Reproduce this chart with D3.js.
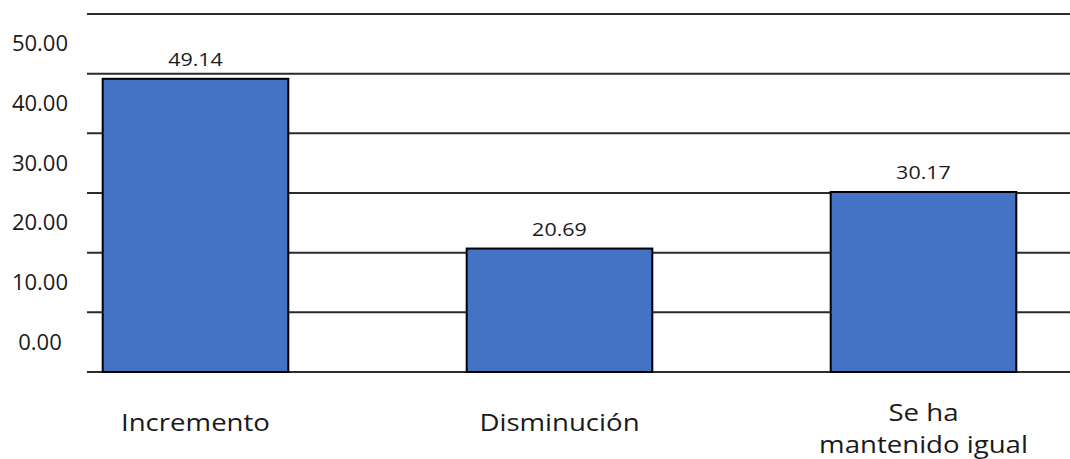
<!DOCTYPE html>
<html>
<head>
<meta charset="utf-8">
<script src="https://cdn.jsdelivr.net/npm/d3@7"></script>
<style>
  html, body { margin: 0; padding: 0; background: #fff; }
  svg text { font-family: "Open Sans", "DejaVu Sans", sans-serif; fill: #1a1a1a; }
</style>
</head>
<body>
<svg id="chart" width="1070" height="459"></svg>
<script>
// ── Data ─────────────────────────────────────────────────────────────────────
const CATEGORIES = ["Incremento", "Disminución", "Se ha|mantenido igual"];
const VALUES     = [49.14, 20.69, 30.17];
const TICKS      = [0, 10, 20, 30, 40, 50, 60];
const TICK_LBLS  = ["0.00", "10.00", "20.00", "30.00", "40.00", "50.00", ""];

const VW = 1070, VH = 459;
const M  = { top: 14, right: 0, bottom: 87, left: 87 };

const svg = d3.select("#chart").attr("viewBox", `0 0 ${VW} ${VH}`);

const y = d3.scaleLinear().domain([0, 60]).range([VH - M.bottom, M.top]);
const x = d3.scaleBand().domain(CATEGORIES).range([13.5, 1105.5]).paddingInner(0.49).paddingOuter(0.245);

// text stretched horizontally like the source image
function stretch(sel, sx) {
  sel.attr("transform", function() {
    const tx = +this.getAttribute("x"), ty = +this.getAttribute("y");
    return `translate(${tx},${ty}) scale(${sx},1) translate(${-tx},${-ty})`;
  });
}

// Gridlines
svg.append("g").selectAll("line")
  .data(TICKS)
  .join("line")
  .attr("x1", M.left).attr("x2", VW)
  .attr("y1", d => y(d)).attr("y2", d => y(d))
  .attr("stroke", "#2b2b2b").attr("stroke-width", 2);

// Tick labels (sit half a step above their gridline, like the source)
const half = (y(0) - y(10)) / 2;
svg.append("g").selectAll("text")
  .data(TICKS)
  .join("text")
  .attr("x", 40)
  .attr("y", d => y(d) - half)
  .attr("dy", "0.35em")
  .attr("text-anchor", "middle")
  .attr("font-size", "21px")
  .text((d, i) => TICK_LBLS[i])
  .call(stretch, 1.05);

// Bars
const bars = CATEGORIES.map((c, i) => ({ cat: c, val: VALUES[i] }));
svg.append("g").selectAll("rect")
  .data(bars)
  .join("rect")
  .attr("x", d => x(d.cat))
  .attr("y", d => y(d.val))
  .attr("width", x.bandwidth())
  .attr("height", d => y(0) - y(d.val))
  .attr("fill", "#4472C4")
  .attr("stroke", "#000").attr("stroke-width", 2);

// Value labels
svg.append("g").selectAll("text")
  .data(bars)
  .join("text")
  .attr("x", d => x(d.cat) + x.bandwidth() / 2)
  .attr("y", d => y(d.val) - 13)
  .attr("text-anchor", "middle")
  .attr("font-size", "19px")
  .text(d => d.val.toFixed(2))
  .call(stretch, 1.13);

// Category labels
const catG = svg.append("g").selectAll("text")
  .data(CATEGORIES)
  .join("text")
  .attr("x", d => x(d) + x.bandwidth() / 2)
  .attr("y", d => d.includes("|") ? 421 : 431)
  .attr("text-anchor", "middle")
  .attr("font-size", "23px");
catG.each(function(d) {
  const t = d3.select(this);
  d.split("|").forEach((line, i) => {
    t.append("tspan")
      .attr("x", x(d) + x.bandwidth() / 2)
      .attr("dy", i === 0 ? 0 : 32)
      .text(line);
  });
});
catG.call(stretch, 1.2);
</script>
</body>
</html>
